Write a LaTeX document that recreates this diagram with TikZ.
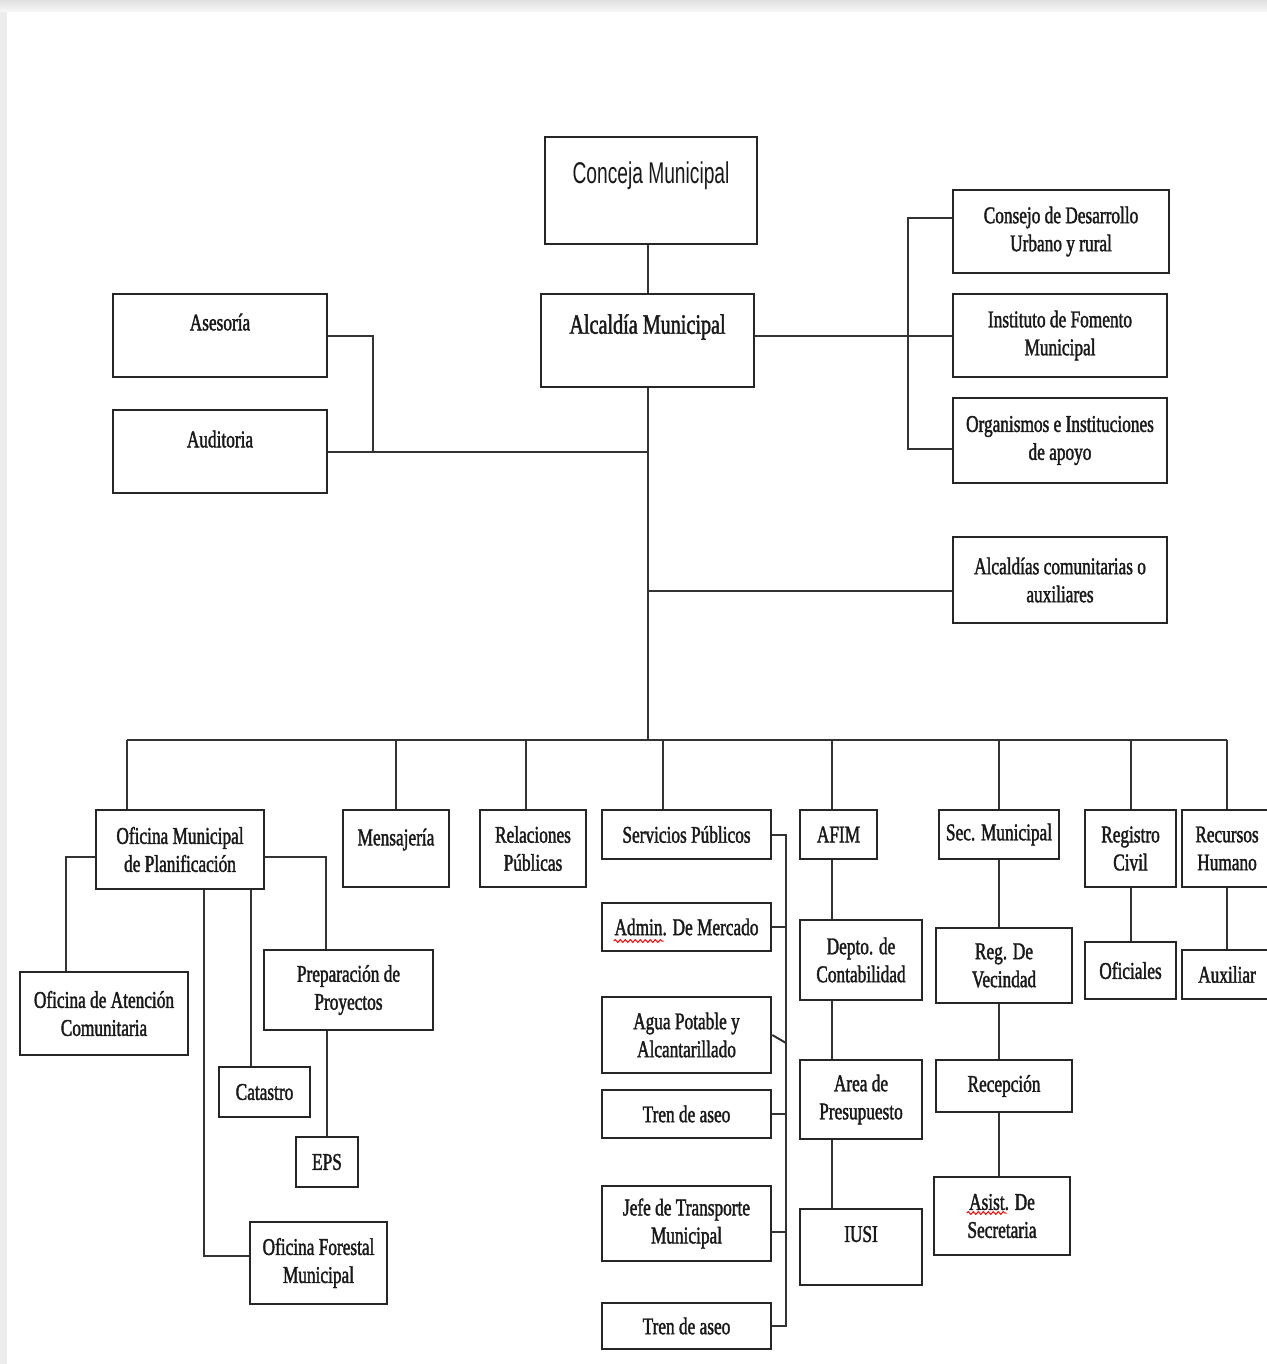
\documentclass[tikz,border=0pt]{standalone}
\usepackage{fontspec}
\setmainfont{Liberation Serif}[FakeStretch=0.72,FakeBold=1.6]
\newfontfamily\concejafont{Liberation Sans}[FakeStretch=0.64]
\usepackage{tikz}
\usetikzlibrary{decorations.pathmorphing}

\begin{document}
\begin{tikzpicture}[x=0.5pt, y=-0.5pt]
\tikzstyle{unidad} = [rectangle, draw=black!85, line width=1.3pt, inner sep=0pt, align=center, text=black!90, font=\fontsize{12}{14}\selectfont]
\tikzstyle{linea} = [draw=black!80, line width=1pt]
\tikzstyle{subrayado} = [red, line width=0.5pt, decorate, decoration={snake, amplitude=0.7pt, segment length=2.5pt}]

\useasboundingbox (0,0) rectangle (1267,1364);
\clip (0,0) rectangle (1267,1364);
\shade [top color=black!12, bottom color=black!3] (0,0) rectangle (1267,12);
\fill [black!7] (0,12) rectangle (7,1364);

% nivel superior
\node (conceja) [unidad, minimum width=106pt, minimum height=53.5pt, text depth=18pt, font=\concejafont\fontsize{15}{17}\selectfont] at (651,190.5) {Conceja Municipal};
\node (alcaldia) [unidad, minimum width=106.5pt, minimum height=46.5pt, text depth=16.5pt, font=\fontsize{14}{16}\selectfont] at (647.5,340.5) {Alcaldía Municipal};
\node (asesoria) [unidad, minimum width=107pt, minimum height=41.5pt, text depth=13.5pt] at (220,335.5) {Asesoría};
\node (auditoria) [unidad, minimum width=107pt, minimum height=41.5pt, text depth=12.5pt] at (220,451.5) {Auditoria};
\node (consejoDes) [unidad, minimum width=108pt, minimum height=41.5pt] at (1061,231.5) {Consejo de Desarrollo\\Urbano y rural};
\node (institutoFom) [unidad, minimum width=107pt, minimum height=41.5pt] at (1060,335.5) {Instituto de Fomento\\Municipal};
\node (organismos) [unidad, minimum width=107pt, minimum height=42.5pt] at (1060,440.5) {Organismos e Instituciones\\de apoyo};
\node (alcaldiasCom) [unidad, minimum width=107pt, minimum height=43pt] at (1060,580) {Alcaldías comunitarias o\\auxiliares};

% dependencias
\node (oficinaPlan) [unidad, minimum width=84pt, minimum height=39.5pt] at (180,849.5) {Oficina Municipal\\de Planificación};
\node (mensajeria) [unidad, minimum width=53pt, minimum height=38.5pt, text depth=11.5pt] at (396,848.5) {Mensajería};
\node (relaciones) [unidad, minimum width=53pt, minimum height=38.5pt] at (533,848.5) {Relaciones\\Públicas};
\node (servicios) [unidad, minimum width=84.5pt, minimum height=24.5pt] at (686.5,834.5) {Servicios Públicos};
\node (afim) [unidad, minimum width=38.5pt, minimum height=24.5pt] at (838.5,834.5) {AFIM};
\node (secMunicipal) [unidad, minimum width=60pt, minimum height=24.5pt] at (999,834.5) {Sec. Municipal};
\node (registroCivil) [unidad, minimum width=45.5pt, minimum height=38.5pt] at (1130.5,848.5) {Registro\\Civil};
\node (recursosHum) [unidad, minimum width=45pt, minimum height=38.5pt] at (1227,848.5) {Recursos\\Humano};

% planificacion
\node (atencionCom) [unidad, minimum width=84pt, minimum height=41.5pt] at (104,1013.5) {Oficina de Atención\\Comunitaria};
\node (preparacion) [unidad, minimum width=84.5pt, minimum height=40pt] at (348.5,990) {Preparación de\\Proyectos};
\node (catastro) [unidad, minimum width=45.5pt, minimum height=25pt] at (264.5,1092) {Catastro};
\node (eps) [unidad, minimum width=31pt, minimum height=25pt] at (327,1162) {EPS};
\node (forestal) [unidad, minimum width=68.5pt, minimum height=41pt] at (318.5,1263) {Oficina Forestal\\Municipal};

% servicios publicos
\node (adminMercado) [unidad, minimum width=84.5pt, minimum height=24pt] at (686.5,927) {Admin. De Mercado};
\node (aguaPotable) [unidad, minimum width=84.5pt, minimum height=38pt] at (686.5,1035) {Agua Potable y\\Alcantarillado};
\node (trenAseo1) [unidad, minimum width=84.5pt, minimum height=24pt] at (686.5,1114) {Tren de aseo};
\node (jefeTransporte) [unidad, minimum width=84.5pt, minimum height=37.5pt] at (686.5,1223.5) {Jefe de Transporte\\Municipal};
\node (trenAseo2) [unidad, minimum width=84.5pt, minimum height=23pt] at (686.5,1326) {Tren de aseo};

% afim
\node (deptoCont) [unidad, minimum width=61pt, minimum height=40pt] at (861,960) {Depto. de\\Contabilidad};
\node (areaPres) [unidad, minimum width=61pt, minimum height=39.5pt] at (861,1099.5) {Area de\\Presupuesto};
\node (iusi) [unidad, minimum width=61pt, minimum height=38pt, text depth=13pt] at (861,1247) {IUSI};

% secretaria
\node (regVecindad) [unidad, minimum width=68pt, minimum height=37.5pt] at (1004,965.5) {Reg. De\\Vecindad};
\node (recepcion) [unidad, minimum width=68pt, minimum height=26pt] at (1004,1086) {Recepción};
\node (asistSec) [unidad, minimum width=68pt, minimum height=39pt] at (1002,1216) {Asist. De\\Secretaria};
\node (oficiales) [unidad, minimum width=45.5pt, minimum height=28.5pt] at (1130.5,970.5) {Oficiales};
\node (auxiliar) [unidad, minimum width=45pt, minimum height=24.5pt] at (1227,974.5) {Auxiliar};

% lineas de mando
\coordinate (bus) at (648,740);
\coordinate (busIzq) at (127,740);
\coordinate (juntaIzq) at (373,451.5);
\coordinate (corchete) at (908,300);
\coordinate (ejeServ) at (786,834.5);
\coordinate (ejeAfim) at (832,740);

\draw [linea] (alcaldia.north) -- (alcaldia.north |- conceja.south);
\draw [linea] (alcaldia.south) -- (alcaldia.south |- bus);
\draw [linea] (asesoria.east) -| (juntaIzq);
\draw [linea] (auditoria.east) -- (auditoria.east -| alcaldia.south);
\draw [linea] (institutoFom.west) -- (institutoFom.west -| alcaldia.east);
\draw [linea] ([yshift=6.5pt]consejoDes.west) -| ([yshift=-4pt]corchete |- organismos.west) -- ([yshift=-4pt]organismos.west);
\draw [linea] ([yshift=-5.5pt]alcaldiasCom.west) -- ([yshift=-5.5pt]alcaldiasCom.west -| bus);

\draw [linea] (busIzq) -- (bus -| recursosHum.north);
\draw [linea] (busIzq) -- (busIzq |- oficinaPlan.north);
\draw [linea] (mensajeria.north) -- (mensajeria.north |- bus);
\draw [linea] ([xshift=-3.5pt]relaciones.north) -- ([xshift=-3.5pt]relaciones.north |- bus);
\draw [linea] ([xshift=-12pt]servicios.north) -- ([xshift=-12pt]servicios.north |- bus);
\draw [linea] (ejeAfim) -- (ejeAfim |- afim.north);
\draw [linea] (secMunicipal.north) -- (secMunicipal.north |- bus);
\draw [linea] (registroCivil.north) -- (registroCivil.north |- bus);
\draw [linea] (recursosHum.north) -- (recursosHum.north |- bus);

\draw [linea] ([yshift=-3.5pt]oficinaPlan.west) -| ([xshift=-19pt]atencionCom.north);
\draw [linea] ([yshift=-3.5pt]oficinaPlan.east) -| ([xshift=-11.25pt]preparacion.north);
\draw [linea] (eps.north) -- (eps.north |- preparacion.south);
\draw [linea] ([xshift=-7pt]catastro.north) -- ([xshift=-7pt]catastro.north |- oficinaPlan.south);
\draw [linea] ([yshift=3.5pt]forestal.west) -| ([xshift=12pt]oficinaPlan.south);

\draw [linea] (servicios.east) -- (ejeServ) |- (trenAseo2.east);
\draw [linea] (adminMercado.east) -- (adminMercado.east -| ejeServ);
\draw [linea] (aguaPotable.east) -- ([yshift=-4pt]aguaPotable.east -| ejeServ);
\draw [linea] (trenAseo1.east) -- (trenAseo1.east -| ejeServ);
\draw [linea] ([yshift=-4pt]jefeTransporte.east) -- ([yshift=-4pt]jefeTransporte.east -| ejeServ);

\draw [linea] (ejeAfim |- afim.south) -- (ejeAfim |- deptoCont.north);
\draw [linea] (ejeAfim |- deptoCont.south) -- (ejeAfim |- areaPres.north);
\draw [linea] (ejeAfim |- areaPres.south) -- (ejeAfim |- iusi.north);

\draw [linea] (secMunicipal.south) -- (secMunicipal.south |- regVecindad.north);
\draw [linea] (secMunicipal.south |- regVecindad.south) -- (secMunicipal.south |- recepcion.north);
\draw [linea] (secMunicipal.south |- recepcion.south) -- (secMunicipal.south |- asistSec.north);
\draw [linea] (registroCivil.south) -- (registroCivil.south |- oficiales.north);
\draw [linea] (recursosHum.south) -- (recursosHum.south |- auxiliar.north);

% marcas del corrector
\draw [subrayado] ([xshift=6.5pt,yshift=-7pt]adminMercado.west) -- ++(50,0);
\draw [subrayado] ([xshift=17pt,yshift=1.5pt]asistSec.west) -- ++(40,0);

\end{tikzpicture}
\end{document}
